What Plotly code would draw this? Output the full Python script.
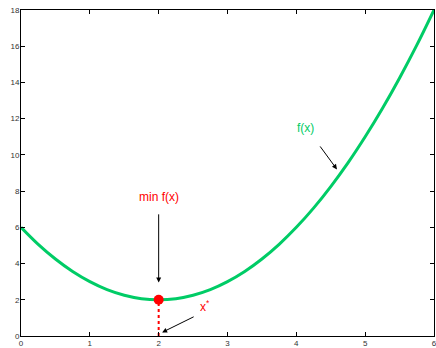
import plotly.graph_objects as go

x_vals = [0, 0.25, 0.5, 0.75, 1, 1.25, 1.5, 1.75, 2, 2.25, 2.5, 2.75, 3,
          3.25, 3.5, 3.75, 4, 4.25, 4.5, 4.75, 5, 5.25, 5.5, 5.75, 6]
f_vals = [6, 5.06, 4.25, 3.56, 3, 2.56, 2.25, 2.06, 2, 2.06, 2.25, 2.56, 3,
          3.56, 4.25, 5.06, 6, 7.06, 8.25, 9.56, 11, 12.56, 14.25, 16.06, 18]
min_x = 2
min_y = 2
x_ticks = [0, 1, 2, 3, 4, 5, 6]
y_ticks = [0, 2, 4, 6, 8, 10, 12, 14, 16, 18]

GREEN = "rgb(0,204,102)"
RED = "rgb(255,0,0)"

fig = go.Figure()
fig.add_trace(go.Scatter(x=x_vals, y=f_vals, mode="lines",
                         line=dict(color=GREEN, width=3, shape="spline"),
                         hoverinfo="skip"))
fig.add_trace(go.Scatter(x=[min_x, min_x], y=[0, min_y], mode="lines",
                         line=dict(color=RED, width=2, dash="dot"),
                         hoverinfo="skip"))
fig.add_trace(go.Scatter(x=[min_x], y=[min_y], mode="markers",
                         marker=dict(color=RED, size=10),
                         hoverinfo="skip"))

font_txt = dict(family="Liberation Sans, Arial, sans-serif", size=12)
fig.add_annotation(x=2.0, y=7.7, text="min f(x)", showarrow=False,
                   font=dict(color=RED, **font_txt))
fig.add_annotation(x=2.0, y=2.95, ax=2.0, ay=6.8, xref="x", yref="y",
                   axref="x", ayref="y", text="", showarrow=True,
                   arrowhead=2, arrowsize=1, arrowwidth=1, arrowcolor="black")
fig.add_annotation(x=2.68, y=1.65, text="x<sup>*</sup>", showarrow=False,
                   font=dict(color=RED, **font_txt))
fig.add_annotation(x=2.05, y=0.2, ax=2.53, ay=1.1, xref="x", yref="y",
                   axref="x", ayref="y", text="", showarrow=True,
                   arrowhead=2, arrowsize=1, arrowwidth=1, arrowcolor="black")
fig.add_annotation(x=4.13, y=11.5, text="f(x)", showarrow=False,
                   font=dict(color=GREEN, **font_txt))
fig.add_annotation(x=4.59, y=9.2, ax=4.33, ay=10.55, xref="x", yref="y",
                   axref="x", ayref="y", text="", showarrow=True,
                   arrowhead=2, arrowsize=1, arrowwidth=1, arrowcolor="black")

axis_common = dict(showgrid=False, zeroline=False, showline=True,
                   linecolor="black", linewidth=1, mirror="ticks",
                   ticks="inside", ticklen=4, tickcolor="black",
                   automargin=False, ticklabeloverflow="allow",
                   tickfont=dict(family="Liberation Sans, Arial, sans-serif",
                                 size=8, color="#333"))
fig.update_xaxes(range=[0, 6], tickvals=x_ticks, ticklabelstandoff=-1,
                 **axis_common)
fig.update_yaxes(range=[0, 18], tickvals=y_ticks, ticklabelstandoff=-1,
                 **axis_common)

fig.update_layout(width=436, height=348, showlegend=False,
                  margin=dict(l=21, r=2, t=10, b=12, autoexpand=False),
                  plot_bgcolor="white", paper_bgcolor="white")

fig.write_html("out.html",
               config={"displayModeBar": False},
               post_script="document.body.style.margin='0';"
                           "document.body.style.overflow='hidden';")
